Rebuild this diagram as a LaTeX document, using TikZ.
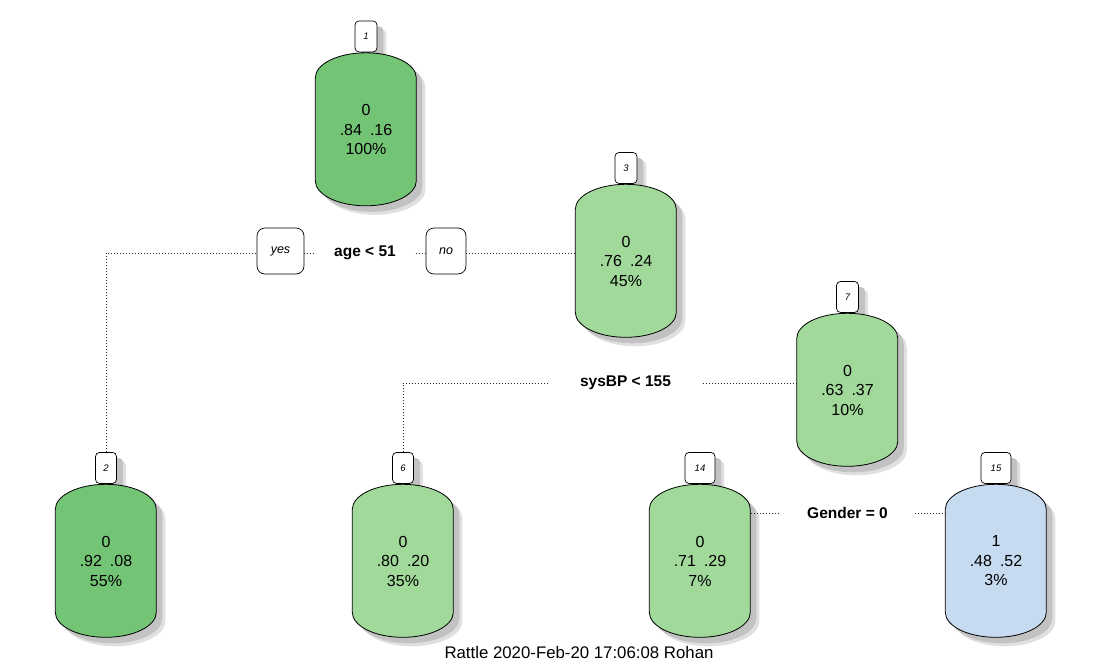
\documentclass[tikz,border=0pt]{standalone}
\usepackage{fontspec}
\setmainfont{Liberation Sans}
\usetikzlibrary{backgrounds}
\definecolor{gdark}{HTML}{74C476}
\definecolor{glight}{HTML}{A1D99B}
\definecolor{blight}{HTML}{C6DBEF}
\definecolor{shadeA}{HTML}{C2C2C2}
\definecolor{shadeB}{HTML}{E0E0E0}
\tikzset{
  x=1pt, y=1pt,
  bodytext/.style={minimum width=101pt, minimum height=153pt, inner sep=0pt, align=center,
    font=\fontsize{16}{19.5}\selectfont},
  numbox/.style={draw, line width=0.7pt, rounded corners=4pt, fill=white, minimum width=#1,
    minimum height=31pt, inner sep=0pt, font=\itshape\fontsize{9.5}{10}\selectfont},
  answerbox/.style={draw, line width=0.7pt, rounded corners=8pt, fill=white, minimum width=#1,
    minimum height=46pt, inner sep=0pt, font=\itshape\fontsize{12.5}{13}\selectfont},
  splitlabel/.style={inner ysep=0pt, inner xsep=#1, font=\bfseries\fontsize{15.5}{16}\selectfont},
  dotline/.style={line width=0.9pt, dash pattern=on 0.9pt off 2.1pt, black!85},
  barrelline/.style={line width=0.8pt},
}
% name, x, y, fill, number, number-box width, text
\newcommand\barrel[7]{%
  \node[bodytext] (#1) at (#2,#3) {#7};
  \node[numbox=#6, anchor=south] (#1b) at ([yshift=0.5]#1.north) {#5};
  \begin{scope}[on background layer]
    \fill[shadeB, rounded corners=4pt] ([shift={(9,-9)}]#1b.south west) rectangle ([shift={(9,-9)}]#1b.north east);
    \fill[shadeA, rounded corners=4pt] ([shift={(6,-6)}]#1b.south west) rectangle ([shift={(6,-6)}]#1b.north east);
    \fill[shadeB] ([shift={(9,-34)}]#1.north west) arc[start angle=180, end angle=0, x radius=50.5, y radius=25]
      -- ++(0,-103) arc[start angle=0, end angle=-180, x radius=50.5, y radius=25] -- cycle;
    \fill[shadeA] ([shift={(6,-31)}]#1.north west) arc[start angle=180, end angle=0, x radius=50.5, y radius=25]
      -- ++(0,-103) arc[start angle=0, end angle=-180, x radius=50.5, y radius=25] -- cycle;
    \draw[barrelline, fill=#4] ([yshift=-25]#1.north west) arc[start angle=180, end angle=0, x radius=50.5, y radius=25]
      -- ++(0,-103) arc[start angle=0, end angle=-180, x radius=50.5, y radius=25] -- cycle;
  \end{scope}}
\begin{document}
\begin{tikzpicture}
\useasboundingbox (0,0) rectangle (1103,-664);

\barrel{n1}{366}{-129.5}{gdark}{1}{22pt}{0\\.84\enspace.16\\100\%}
\barrel{n3}{626}{-261}{glight}{3}{22pt}{0\\.76\enspace.24\\45\%}
\barrel{n7}{847.5}{-390}{glight}{7}{22pt}{0\\.63\enspace.37\\10\%}
\barrel{n2}{106}{-561}{gdark}{2}{21pt}{0\\.92\enspace.08\\55\%}
\barrel{n6}{403}{-561}{glight}{6}{21pt}{0\\.80\enspace.20\\35\%}
\barrel{n14}{700}{-561}{glight}{14}{30pt}{0\\.71\enspace.29\\7\%}
\barrel{n15}{996}{-561}{blight}{15}{30pt}{1\\.48\enspace.52\\3\%}

% split: age < 51
\node[answerbox=47pt] (yes) at (280.5,-251) {\raisebox{-2.5pt}{yes}};
\node[answerbox=40pt] (no) at (446,-251) {\raisebox{-2.5pt}{no}};
\node[splitlabel=19.5pt] (s1) at (365,-253) {age < 51};
\draw[dotline] (n2b.north) |- ([yshift=-2]yes.west);
\draw[dotline] ([yshift=-2]yes.east) -- (s1.west);
\draw[dotline] (s1.east) -- ([yshift=-2]no.west);
\draw[dotline] ([yshift=-2]no.east) -- ([yshift=8]n3.west);

% split: sysBP < 155
\node[splitlabel=31.5pt] (s2) at (625.5,-383) {sysBP < 155};
\draw[dotline] (n6b.north) |- (s2.west);
\draw[dotline] (s2.east) -- ([yshift=7]n7.west);

% split: Gender = 0
\node[splitlabel=27pt] (s3) at (847.5,-513) {Gender = 0};
\draw[dotline] ([yshift=48]n14.east) -- (s3.west);
\draw[dotline] (s3.east) -- ([yshift=48]n15.west);

\node[font=\fontsize{16.8}{18}\selectfont] (foot) at (579,-652) {Rattle 2020-Feb-20 17:06:08 Rohan};
\end{tikzpicture}
\end{document}
